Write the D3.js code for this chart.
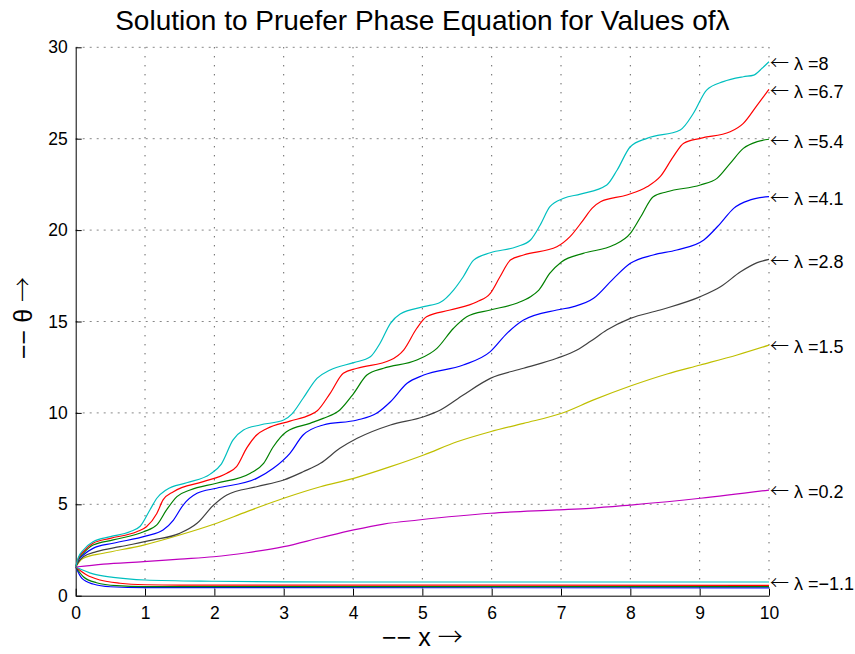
<!DOCTYPE html>
<html>
<head>
<meta charset="utf-8">
<script src="https://cdn.jsdelivr.net/npm/d3@7"></script>
<style>
  body { margin: 0; background: #fff; }
  text { font-family: "Liberation Sans", Arial, Helvetica, sans-serif; }
  .arrow { font-family: "Noto Sans CJK JP", "DejaVu Sans", sans-serif; font-weight: 300; }
</style>
</head>
<body>
<div id="chart"></div>
<script>
// lambda values, one curve each
const lambdas = [-5, -3.7, -2.4, -1.1, 0.2, 1.5, 2.8, 4.1, 5.4, 6.7, 8];

// theta(x), [x, theta]
const thetaM50 = [[0,1.57],[0.09,0.95],[0.25,0.64],[0.5,0.49],[1.0,0.44],[10,0.43]];
const thetaM37 = [[0,1.57],[0.11,1.04],[0.3,0.71],[0.59,0.55],[1.0,0.5],[10,0.5]];
const thetaM24 = [[0,1.57],[0.16,1.13],[0.35,0.86],[0.64,0.68],[1.0,0.6],[1.5,0.58],[10,0.57]];
const thetaM11 = [[0,1.57],[0.25,1.19],[0.54,1.0],[1.0,0.86],[2.0,0.79],[3,0.76],[4,0.75],[10,0.75]];
const theta02 = [[0,1.57],[0.4,1.73],[0.98,1.86],[1.5,2.0],[1.99,2.13],[2.47,2.35],[3.0,2.68],[3.53,3.17],
  [4.01,3.6],[4.44,3.92],[4.94,4.14],[5.98,4.51],[6.94,4.69],[7.42,4.78],[8.0,4.96],[9.01,5.33],[10,5.78]];
const theta15 = [[0,1.57],[0.04,1.8],[0.11,2.05],[0.4,2.32],[0.98,2.77],[1.5,3.32],[1.99,3.91],[2.47,4.6],
  [3.0,5.33],[3.53,5.96],[4.01,6.42],[4.54,7.06],[5.02,7.7],[5.5,8.42],[5.98,8.97],[6.46,9.43],[7.01,9.98],
  [7.47,10.71],[8.0,11.47],[8.53,12.13],[9.01,12.62],[9.54,13.17],[10,13.71]];
const theta28 = [[0,1.57],[0.04,1.85],[0.11,2.13],[0.3,2.41],[0.64,2.68],[1.12,3.05],[1.5,3.41],[1.75,3.96],
  [1.99,4.96],[2.18,5.51],[2.61,5.96],[3.0,6.33],[3.28,6.78],[3.53,7.24],[3.81,8.06],[4.06,8.61],[4.54,9.34],
  [5.02,9.79],[5.26,10.16],[5.59,10.98],[5.98,11.89],[6.46,12.44],[6.94,12.99],[7.23,13.44],[7.42,13.9],
  [7.66,14.53],[8.0,15.17],[8.43,15.63],[9.01,16.36],[9.3,16.9],[9.59,17.72],[9.83,18.22],[10,18.4]];
const theta41 = [[0,1.57],[0.04,1.95],[0.11,2.23],[0.25,2.59],[0.54,2.87],[1.02,3.27],[1.26,3.59],[1.41,4.14],
  [1.55,4.96],[1.75,5.6],[2.03,5.88],[2.61,6.42],[2.85,6.97],[3.09,7.79],[3.28,8.79],[3.57,9.34],
  [4.06,9.61],[4.34,9.98],[4.54,10.61],[4.78,11.62],[5.02,12.07],[5.59,12.62],[5.98,13.35],
  [6.22,14.35],[6.46,15.08],[6.94,15.63],[7.17,15.8],[7.47,16.27],[7.76,17.36],[8.0,18.18],[8.33,18.64],
  [8.67,18.91],[9.06,19.46],[9.3,20.37],[9.49,21.19],[9.73,21.65],[10,21.83]];
const theta54 = [[0,1.57],[0.04,2.0],[0.11,2.32],[0.25,2.77],[0.54,3.05],[0.98,3.5],[1.17,3.87],[1.31,4.69],
  [1.46,5.42],[1.65,5.78],[2.03,6.15],[2.52,6.7],[2.71,7.24],[2.85,8.15],[3.04,8.97],[3.38,9.43],[3.57,9.7],
  [3.81,10.16],[4.01,11.07],[4.2,12.07],[4.44,12.44],[4.92,12.89],[5.21,13.53],[5.45,14.63],[5.64,15.26],
  [5.98,15.63],[6.36,16.0],[6.56,16.36],[6.68,16.72],[6.84,17.64],[7.01,18.27],[7.32,18.73],[7.76,19.18],
  [8.0,19.82],[8.15,20.73],[8.33,21.83],[8.53,22.1],[9.01,22.47],[9.25,22.83],[9.44,23.65],[9.63,24.47],
  [9.83,24.84],[10,24.97]];
const theta67 = [[0,1.57],[0.04,2.05],[0.11,2.41],[0.25,2.87],[0.5,3.14],[0.88,3.5],[1.02,3.77],[1.17,4.5],
  [1.26,5.24],[1.41,5.69],[1.84,6.24],[2.18,6.7],[2.32,7.06],[2.47,8.1],[2.61,8.79],[2.76,9.15],[3.09,9.55],
  [3.38,9.89],[3.48,10.1],[3.67,11.07],[3.86,12.17],[4.06,12.44],[4.54,12.89],[4.73,13.44],[4.92,14.63],
  [5.06,15.26],[5.4,15.63],[5.79,16.08],[5.98,16.54],[6.12,17.45],[6.27,18.36],[6.46,18.64],[6.94,19.09],
  [7.13,19.64],[7.32,20.55],[7.45,21.2],[7.57,21.55],[7.95,21.92],[8.24,22.37],[8.43,22.92],
  [8.62,24.02],[8.77,24.75],[9.01,25.02],[9.44,25.38],[9.63,25.84],[9.83,26.84],[10,27.7]];
const theta80 = [[0,1.57],[0.04,2.1],[0.11,2.5],[0.25,2.95],[0.5,3.23],[0.78,3.5],[0.93,3.8],[1.07,4.69],
  [1.17,5.33],[1.31,5.8],[1.6,6.18],[1.94,6.65],[2.1,7.2],[2.27,8.52],[2.42,9.06],[2.66,9.34],
  [3.0,9.61],[3.12,9.95],[3.28,10.8],[3.48,11.89],[3.67,12.35],[4.01,12.75],[4.25,13.07],[4.39,13.81],
  [4.54,14.9],[4.68,15.41],[5.02,15.81],[5.26,16.05],[5.45,16.72],[5.59,17.45],[5.74,18.36],[5.98,18.76],
  [6.36,19.09],[6.56,19.46],[6.7,20.28],[6.84,21.28],[7.04,21.74],[7.28,21.97],[7.66,22.47],[7.81,23.29],
  [8.0,24.56],[8.24,25.02],[8.72,25.48],[8.91,26.39],[9.1,27.66],[9.34,28.12],[9.63,28.39],[9.78,28.48],
  [9.9,28.85],[10,29.21]];

const curves = [thetaM50, thetaM37, thetaM24, thetaM11, theta02, theta15, theta28, theta41, theta54, theta67, theta80];

const xTicks = [0, 1, 2, 3, 4, 5, 6, 7, 8, 9, 10];
const yTicks = [0, 5, 10, 15, 20, 25, 30];

// matlab default line colours, cycled
const colors = ["#0000ff", "#008000", "#ff0000", "#00bfbf", "#bf00bf", "#bfbf00", "#404040"];

const margin = { top: 47.3, right: 86, bottom: 58.3, left: 75.7 },
      width = 855 - margin.left - margin.right,
      height = 654 - margin.top - margin.bottom;

const svg = d3.select("#chart")
  .append("svg")
  .attr("width", 855)
  .attr("height", 654);

const g = svg.append("g")
  .attr("transform", `translate(${margin.left},${margin.top})`);

const xScale = d3.scaleLinear().domain([0, 10]).range([0, width]);
const yScale = d3.scaleLinear().domain([0, 30]).range([height, 0]);

// grid
g.selectAll(".vgrid")
  .data(xTicks.slice(1))
  .enter().append("line")
  .attr("x1", d => xScale(d)).attr("x2", d => xScale(d))
  .attr("y1", 0).attr("y2", height)
  .attr("stroke", "#222").attr("stroke-width", 1)
  .attr("stroke-dasharray", "1,8");

g.selectAll(".hgrid")
  .data(yTicks.slice(1))
  .enter().append("line")
  .attr("x1", 0).attr("x2", width)
  .attr("y1", d => yScale(d)).attr("y2", d => yScale(d))
  .attr("stroke", "#888").attr("stroke-width", 1)
  .attr("stroke-dasharray", "2,5");

// axes, ticks point inward
const xAxis = g.append("g")
  .attr("transform", `translate(0,${height})`)
  .call(d3.axisBottom(xScale).tickValues(xTicks).tickFormat(d3.format("d"))
    .tickSizeInner(-7).tickSizeOuter(0).tickPadding(11));

const yAxis = g.append("g")
  .call(d3.axisLeft(yScale).tickValues(yTicks).tickFormat(d3.format("d"))
    .tickSizeInner(-6).tickSizeOuter(0).tickPadding(8));

[xAxis, yAxis].forEach(a => {
  a.attr("font-family", null).attr("font-size", null);
  a.selectAll("text").attr("font-size", "17.5px").attr("fill", "#000");
  a.selectAll("line").attr("stroke", "#000");
  a.select(".domain").attr("stroke", "#000");
});

// curves
const line = d3.line()
  .x(d => xScale(d[0]))
  .y(d => yScale(d[1]))
  .curve(d3.curveMonotoneX);

g.selectAll(".curve")
  .data(curves)
  .enter().append("path")
  .attr("class", "curve")
  .attr("d", line)
  .attr("fill", "none")
  .attr("stroke", (d, i) => colors[i % colors.length])
  .attr("stroke-width", 1.2);

// end labels, only lambda >= -1.1
const labelled = lambdas.map((l, i) => ({ l, pts: curves[i] })).filter(d => d.l >= -1.1);

const labs = g.selectAll(".lab")
  .data(labelled)
  .enter().append("text")
  .attr("x", xScale(10) + 1)
  .attr("y", d => yScale(d.pts[d.pts.length - 1][1]) + 2)
  .attr("dy", "0.35em")
  .attr("font-size", "18px")
  .attr("fill", "#000");
labs.append("tspan").attr("class", "arrow").attr("font-size", "19px").text("\u2190");
labs.append("tspan").text(d => " \u03bb =" + (d.l < 0 ? "\u2212" + Math.abs(d.l) : d.l));

// title and axis labels
svg.append("text")
  .attr("x", margin.left + width / 2)
  .attr("y", 30)
  .attr("text-anchor", "middle")
  .attr("font-size", "28px")
  .text("Solution to Pruefer Phase Equation for Values of\u03bb");

const xl = svg.append("text")
  .attr("x", margin.left + width / 2)
  .attr("y", 646)
  .attr("text-anchor", "middle")
  .attr("font-size", "25px");
xl.append("tspan").text("\u2212\u2212 x ");
xl.append("tspan").attr("class", "arrow").text("\u2192");

const yl = svg.append("text")
  .attr("transform", "translate(32,318) rotate(-90)")
  .attr("text-anchor", "middle")
  .attr("font-size", "25px");
yl.append("tspan").text("\u2212\u2212 \u03b8 ");
yl.append("tspan").attr("class", "arrow").text("\u2192");
</script>
</body>
</html>
